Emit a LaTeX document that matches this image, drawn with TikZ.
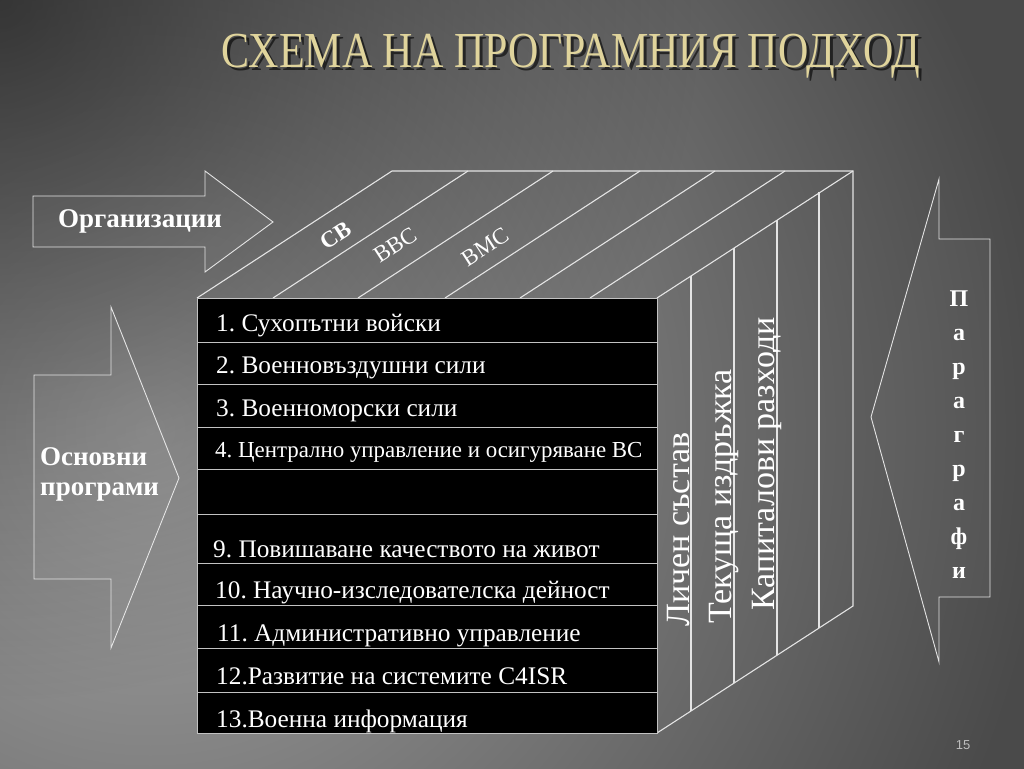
\documentclass[tikz,border=0pt]{standalone}
\usepackage{fontspec}
\setmainfont{Liberation Serif}
\setsansfont{Liberation Sans}
\usetikzlibrary{positioning,calc,fadings}
\definecolor{slatebg}{HTML}{4A4A4A}
\definecolor{glowgray}{HTML}{A4A4A4}
\definecolor{edgewhite}{HTML}{E4E4E4}
\definecolor{titlegold}{HTML}{E0D49C}
\definecolor{pagegray}{HTML}{BDBDBD}
\tikzfading[name=cornerfade,inner color=transparent!0,outer color=transparent!100]
\frenchspacing

\begin{document}
\begin{tikzpicture}[x=1pt,y=-1pt,
  edge/.style={draw=edgewhite,line width=1.1pt},
  rowline/.style={draw=edgewhite!85!black,line width=0.9pt},
  arrowshape/.style={draw=edgewhite,line width=0.9pt,fill=white,fill opacity=0.04},
  rowtext/.style={anchor=base west,inner sep=0pt,text=white,
    font=\fontsize{25.3}{28}\selectfont},
  sidetext/.style={anchor=base west,inner sep=0pt,rotate=90,text=white,
    font=\fontsize{34}{37}\selectfont},
  toplabel/.style={inner sep=0pt,rotate=33,text=white,
    font=\fontsize{23}{25}\selectfont},
  arrowlabel/.style={inner sep=0pt,text=white,
    font=\bfseries\fontsize{27}{30}\selectfont}
]
\useasboundingbox (0,0) rectangle (1024,768);
% background
\fill[slatebg] (-2,-2) rectangle (1026,770);
\begin{scope}
  \clip (0,0) rectangle (1024,768);
  \shade[inner color=glowgray,outer color=slatebg] (150,430) circle (900);
  \fill[black,opacity=0.55,path fading=cornerfade] (0,0) circle (700);
\end{scope}

% title
\node[inner sep=0pt,text=black,opacity=0.6,font=\fontsize{42}{45}\selectfont]
  (titleshadow) at (574,59) {\scalebox{1}[1.2]{СХЕМА НА ПРОГРАМНИЯ ПОДХОД}};
\node[inner sep=0pt,text=titlegold,font=\fontsize{42}{45}\selectfont]
  (title) at (571,56) {\scalebox{1}[1.2]{СХЕМА НА ПРОГРАМНИЯ ПОДХОД}};

% cube corners
\coordinate (ftl) at (197,298);
\coordinate (ftr) at (657,298);
\coordinate (fbr) at (657,733);
\coordinate (fbl) at (197,733);
\coordinate (btl) at (392,171);
\coordinate (btr) at (853,171);
\coordinate (bbr) at (853,606);

% top and side faces
\draw[edge] (ftl) -- (btl) -- (btr) -- (bbr) -- (fbr);
\draw[edge] (ftr) -- (btr);
\foreach \xx in {273,358,445,520,590}
  \draw[edge] (\xx,298) -- ++(195,-127);
\foreach \xx in {691,734,777,819}
  \draw[edge] (\xx,{298-(\xx-657)/195*127}) -- (\xx,{733-(\xx-657)/195*127});

% front face
\fill[black] (ftl) rectangle (fbr);
\foreach \yy in {342,384,427,469,514,563,605,648,692}
  \draw[rowline] (197,\yy) -- (657,\yy);
\draw[rowline] (ftl) rectangle (fbr);

\node[rowtext] (r1) at (216,331) {1. Сухопътни войски};
\node[rowtext] (r2) at (216,373) {2. Военновъздушни сили};
\node[rowtext] (r3) at (216,416) {3. Военноморски сили};
\node[rowtext,font=\fontsize{22.9}{25}\selectfont] (r4) at (215,457)
  {4. Централно управление и осигуряване ВС};
\node[rowtext] (r9) at (213,557) {9. Повишаване качеството на живот};
\node[rowtext] (r10) at (215,598) {10. Научно-изследователска дейност};
\node[rowtext] (r11) at (217,641) {11. Административно управление};
\node[rowtext] (r12) at (216,684) {12.Развитие на системите C4ISR};
\node[rowtext] (r13) at (216,727) {13.Военна информация};

% side face labels
\node[sidetext] (personnel) at (689,627) {Личен състав};
\node[sidetext] (upkeep) at (731,624) {Текуща издръжка};
\node[sidetext] (capital) at (774,611) {Капиталови разходи};

% top face labels
\node[toplabel,font=\bfseries\fontsize{23}{25}\selectfont] (sv) at (336,236) {СВ};
\node[toplabel] (vvs) at (395,245) {ВВС};
\node[toplabel] (vms) at (485,247) {ВМС};

% arrows
\draw[arrowshape] (33,196) -- (205,196) -- (205,171) -- (273,222)
  -- (205,272) -- (205,247) -- (33,247) -- cycle;
\node[arrowlabel] (org) at (140,221) {Организации};

\draw[arrowshape] (34,375) -- (111,375) -- (111,307) -- (179,478)
  -- (111,648) -- (111,579) -- (34,579) -- cycle;
\node[arrowlabel,align=left,anchor=west] (osn) at (40,474) {Основни\\програми};

\draw[arrowshape] (990,239) -- (939,239) -- (939,179) -- (871,417)
  -- (939,662) -- (939,597) -- (990,597) -- cycle;
\node[arrowlabel,align=center,anchor=north,font=\bfseries\fontsize{24}{33.9}\selectfont]
  (par) at (959,291) {П\\а\\р\\а\\г\\р\\а\\ф\\и};

\node[inner sep=0pt,text=pagegray,font=\sffamily\fontsize{13}{15}\selectfont]
  (pnum) at (963,745) {15};
\end{tikzpicture}
\end{document}
